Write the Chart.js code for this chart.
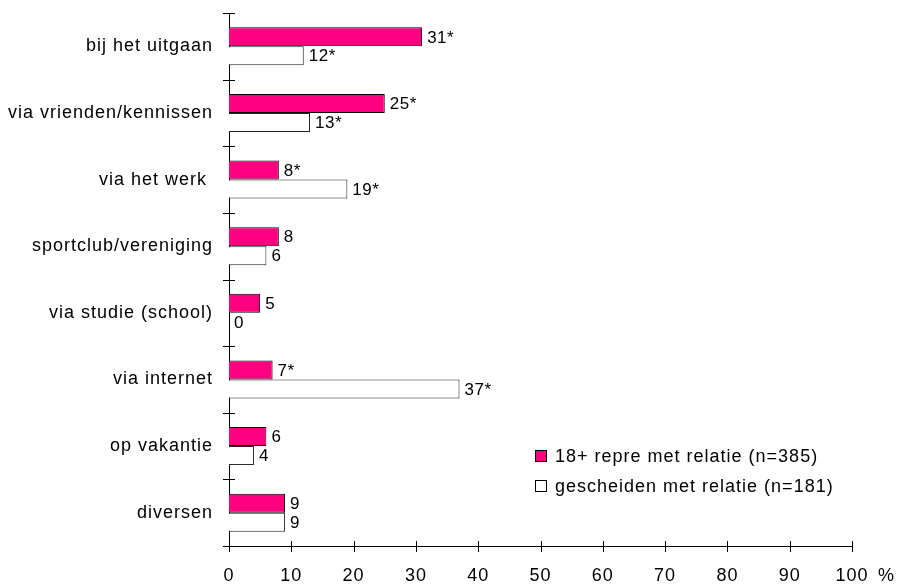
<!DOCTYPE html>
<html>
<head>
<meta charset="utf-8">
<script src="https://cdn.jsdelivr.net/npm/chart.js@4"></script>
<style>
  html, body { margin: 0; padding: 0; background: #fff; }
  #wrap { width: 899px; height: 585px; }
</style>
</head>
<body>
<div id="wrap"><canvas id="chart"></canvas></div>
<script>
var categories = ['bij het uitgaan', 'via vrienden/kennissen', 'via het werk ', 'sportclub/vereniging',
    'via studie (school)', 'via internet', 'op vakantie', 'diversen'];
var repre = [31, 25, 8, 8, 5, 7, 6, 9];
var gescheiden = [12, 13, 19, 6, 0, 37, 4, 9];
var repreLabels = ['31*', '25*', '8*', '8', '5', '7*', '6', '9'];
var gescheidenLabels = ['12*', '13*', '19*', '6', '0', '37*', '4', '9'];
var seriesNames = ['18+ repre met relatie (n=385)', 'gescheiden met relatie (n=181)'];
var xTicks = [0, 10, 20, 30, 40, 50, 60, 70, 80, 90, 100];

var fontFamily = '"Liberation Sans", Arial, sans-serif';
var pink = '#ff0080';

// the original renders text a bit wider than Liberation, so loosen it up
var spacing = {
    id: 'spacing',
    beforeDraw: function (chart) { chart.ctx.letterSpacing = '1px'; }
};

// value labels, tick marks crossing the axes, legend and the % sign
var extras = {
    id: 'extras',
    afterDraw: function (chart) {
        var ctx = chart.ctx;
        var area = chart.chartArea;
        var xs = chart.scales.x;
        ctx.save();
        ctx.strokeStyle = '#000';
        ctx.lineWidth = 1;

        // x ticks
        xTicks.forEach(function (v) {
            var px = Math.round(xs.getPixelForValue(v)) + 0.5;
            ctx.beginPath();
            ctx.moveTo(px, area.bottom - 5);
            ctx.lineTo(px, area.bottom + 6);
            ctx.stroke();
        });
        // y ticks between categories
        var step = (area.bottom - area.top) / categories.length;
        for (var i = 0; i <= categories.length; i++) {
            var py = Math.round(area.top + i * step) + 0.5;
            ctx.beginPath();
            ctx.moveTo(area.left - 6, py);
            ctx.lineTo(area.left + 6, py);
            ctx.stroke();
        }

        // value labels
        ctx.fillStyle = '#000';
        ctx.letterSpacing = '0.5px';
        ctx.font = '17px ' + fontFamily;
        ctx.textBaseline = 'middle';
        ctx.textAlign = 'left';
        var labelSets = [repreLabels, gescheidenLabels];
        chart.data.datasets.forEach(function (ds, d) {
            chart.getDatasetMeta(d).data.forEach(function (el, j) {
                ctx.fillText(labelSets[d][j], el.x + 5, el.y + 1);
            });
        });

        // % after the last tick
        ctx.font = '18px ' + fontFamily;
        ctx.fillText('%', xs.getPixelForValue(100) + 26, area.bottom + 30);

        // legend
        var lx = area.left + 306;
        var ly = area.bottom - 90;
        var fills = [pink, '#fff'];
        ctx.letterSpacing = '1px';
        for (var k = 0; k < 2; k++) {
            var y = ly + k * 30;
            ctx.fillStyle = fills[k];
            ctx.fillRect(lx + 0.5, y - 5.5, 11, 11);
            ctx.strokeStyle = '#000';
            ctx.strokeRect(lx + 0.5, y - 5.5, 11, 11);
            ctx.fillStyle = '#000';
            ctx.fillText(seriesNames[k], lx + 20, y + 1);
        }
        ctx.restore();
    }
};

new Chart(document.getElementById('chart'), {
    type: 'bar',
    data: {
        labels: categories,
        datasets: [{
            label: seriesNames[0],
            data: repre,
            backgroundColor: pink,
            borderColor: '#000',
            borderWidth: 1,
            borderSkipped: 'left',
            categoryPercentage: 0.57,
            barPercentage: 1.0
        }, {
            label: seriesNames[1],
            data: gescheiden,
            backgroundColor: '#fff',
            borderColor: '#222',
            borderWidth: 1,
            borderSkipped: 'left',
            categoryPercentage: 0.57,
            barPercentage: 1.0
        }]
    },
    options: {
        indexAxis: 'y',
        responsive: true,
        maintainAspectRatio: false,
        animation: false,
        layout: { padding: { top: 13, right: 47, bottom: 0, left: 0 } },
        plugins: {
            legend: { display: false },
            tooltip: { enabled: false }
        },
        scales: {
            x: {
                min: 0,
                max: 100,
                grid: { display: false },
                border: { display: true, color: '#000', width: 1 },
                ticks: {
                    stepSize: 10,
                    padding: 11,
                    color: '#000',
                    font: { family: fontFamily, size: 18 }
                },
                afterFit: function (scale) {
                    scale.height = 39;
                    scale.paddingRight = 0;
                    scale.paddingLeft = 0;
                }
            },
            y: {
                grid: { display: false },
                border: { display: true, color: '#000', width: 1 },
                ticks: {
                    padding: 8,
                    color: '#000',
                    font: { family: fontFamily, size: 18 }
                },
                afterFit: function (scale) {
                    scale.width = 229;
                    scale.paddingTop = 0;
                    scale.paddingBottom = 0;
                }
            }
        }
    },
    plugins: [spacing, extras]
});
</script>
</body>
</html>
